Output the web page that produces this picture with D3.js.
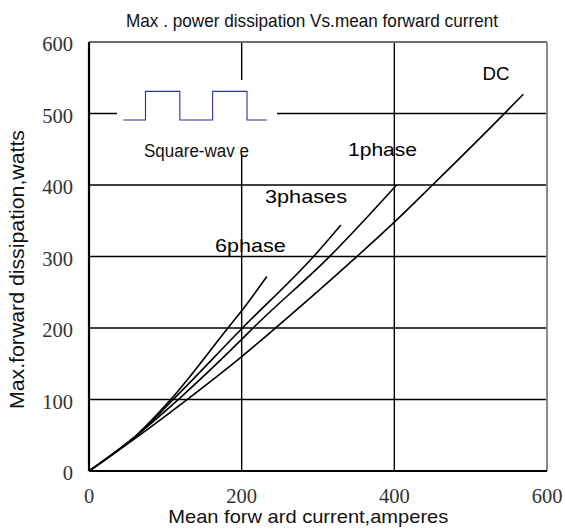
<!DOCTYPE html>
<html>
<head>
<meta charset="utf-8">
<script src="https://cdn.jsdelivr.net/npm/d3@7"></script>
<style>
  body { margin: 0; background: #fff; }
  svg { display: block; }
</style>
</head>
<body>
<div id="chart"></div>
<script>
// ------------------------------
// data
// ------------------------------
const xTicks = [0, 200, 400, 600];
const yTicks = [0, 100, 200, 300, 400, 500, 600];

const seriesNames = ['DC', '1phase', '3phases', '6phase'];

// mean forward current (A) / max power dissipation (W)
const dcCurrent = [0, 65, 125, 200, 240, 350, 400, 450, 547, 569];
const dcPower = [0, 49, 97, 160, 196, 299, 348, 400, 503, 527];

const phase1Current = [0, 65, 119, 200, 215, 318, 403];
const phase1Power = [0, 52, 102, 184, 200, 303, 400];

const phase3Current = [0, 65, 114, 201, 296, 330];
const phase3Power = [0, 52, 104, 200, 302, 344];

const phase6Current = [0, 62, 107, 182, 200, 233];
const phase6Power = [0, 50, 100, 200, 224, 272];

// square-wave inset glyph, in chart units
const waveX = [45, 74, 74, 119, 119, 162, 162, 207, 207, 233];
const waveY = [491, 491, 531, 531, 491, 491, 531, 531, 491, 491];

// ------------------------------
// layout
// ------------------------------
const W = 565, H = 530;
const margin = { top: 42, right: 18, bottom: 59, left: 89 };
const width = W - margin.left - margin.right;
const height = H - margin.top - margin.bottom;

const sansFont = 'Liberation Sans';
const serifFont = 'Liberation Serif';

const svgRoot = d3.select('#chart')
  .append('svg')
  .attr('width', W)
  .attr('height', H);

const svg = svgRoot.append('g')
  .attr('transform', `translate(${margin.left},${margin.top})`);

const x = d3.scaleLinear().domain([0, 600]).range([0, width]);
const y = d3.scaleLinear().domain([0, 600]).range([height, 0]);

// grid
svg.append('g')
  .selectAll('line')
  .data(yTicks.filter((d) => d > 0 && d < 600))
  .join('line')
  .attr('x1', 0).attr('x2', width)
  .attr('y1', (d) => y(d)).attr('y2', (d) => y(d))
  .attr('stroke', '#000')
  .attr('stroke-width', 1.4);

svg.append('g')
  .selectAll('line')
  .data(xTicks.filter((d) => d > 0 && d < 600))
  .join('line')
  .attr('y1', 0).attr('y2', height)
  .attr('x1', (d) => x(d)).attr('x2', (d) => x(d))
  .attr('stroke', '#000')
  .attr('stroke-width', 1.4);

// inset: white box knocks out the grid, then the wave
svg.append('rect')
  .attr('x', 28).attr('y', 38)
  .attr('width', 160).attr('height', 75)
  .attr('fill', '#fff');

svg.append('path')
  .datum(waveX.map((d, i) => [d, waveY[i]]))
  .attr('d', d3.line().x((d) => x(d[0])).y((d) => y(d[1])))
  .attr('fill', 'none')
  .attr('stroke', '#2e3192')
  .attr('stroke-width', 1.1);

svg.append('text')
  .attr('x', 55).attr('y', 115.3)
  .attr('textLength', 105)
  .attr('lengthAdjust', 'spacingAndGlyphs')
  .attr('font-family', sansFont)
  .attr('font-size', 18)
  .attr('fill', '#111')
  .text('Square-wav e');

// curves
const curves = [
  { name: seriesNames[0], xs: dcCurrent, ys: dcPower },
  { name: seriesNames[1], xs: phase1Current, ys: phase1Power },
  { name: seriesNames[2], xs: phase3Current, ys: phase3Power },
  { name: seriesNames[3], xs: phase6Current, ys: phase6Power },
];

const line = d3.line()
  .x((d) => x(d[0]))
  .y((d) => y(d[1]))
  .curve(d3.curveMonotoneX);

svg.append('g')
  .selectAll('path')
  .data(curves)
  .join('path')
  .attr('d', (c) => line(c.xs.map((v, i) => [v, c.ys[i]])))
  .attr('fill', 'none')
  .attr('stroke', '#000')
  .attr('stroke-width', 1.6);

// curve labels (pixel anchors inside the plot)
const labelPos = {
  DC: { cx: 407, by: 38, len: 27 },
  '1phase': { cx: 293.5, by: 113.7, len: 69 },
  '3phases': { cx: 217, by: 161, len: 82 },
  '6phase': { cx: 161.4, by: 209.7, len: 70.7 },
};

svg.append('g')
  .selectAll('text')
  .data(seriesNames)
  .join('text')
  .attr('x', (d) => labelPos[d].cx)
  .attr('y', (d) => labelPos[d].by)
  .attr('text-anchor', 'middle')
  .attr('textLength', (d) => labelPos[d].len)
  .attr('lengthAdjust', 'spacingAndGlyphs')
  .attr('font-family', sansFont)
  .attr('font-size', 19)
  .attr('fill', '#000')
  .text((d) => d);

// frame: dark left/bottom, grey top/right
svg.append('line')
  .attr('x1', 0).attr('x2', width).attr('y1', 0).attr('y2', 0)
  .attr('stroke', '#6e6e6e').attr('stroke-width', 2);
svg.append('line')
  .attr('x1', width).attr('x2', width).attr('y1', 0).attr('y2', height)
  .attr('stroke', '#8a8a8a').attr('stroke-width', 2);
svg.append('line')
  .attr('x1', 0).attr('x2', width).attr('y1', height).attr('y2', height)
  .attr('stroke', '#000').attr('stroke-width', 2.2);
svg.append('line')
  .attr('x1', 0).attr('x2', 0).attr('y1', 0).attr('y2', height)
  .attr('stroke', '#000').attr('stroke-width', 2.2);

// tick labels (serif, no tick marks)
svg.append('g')
  .selectAll('text')
  .data(yTicks)
  .join('text')
  .attr('x', -16)
  .attr('y', (d) => y(d) + 9)
  .attr('text-anchor', 'end')
  .attr('font-family', serifFont)
  .attr('font-size', 20.5)
  .attr('fill', '#333')
  .text((d) => d);

svg.append('g')
  .selectAll('text')
  .data(xTicks)
  .join('text')
  .attr('x', (d) => x(d))
  .attr('y', height + 32.3)
  .attr('text-anchor', 'middle')
  .attr('font-family', serifFont)
  .attr('font-size', 20.5)
  .attr('fill', '#333')
  .text((d) => d);

// title and axis titles
svgRoot.append('text')
  .attr('x', 312).attr('y', 27.3)
  .attr('text-anchor', 'middle')
  .attr('textLength', 372)
  .attr('lengthAdjust', 'spacingAndGlyphs')
  .attr('font-family', sansFont)
  .attr('font-size', 19)
  .attr('fill', '#111')
  .text('Max . power dissipation Vs.mean forward current');

svgRoot.append('text')
  .attr('x', 308.3).attr('y', 523.3)
  .attr('text-anchor', 'middle')
  .attr('textLength', 280)
  .attr('lengthAdjust', 'spacingAndGlyphs')
  .attr('font-family', sansFont)
  .attr('font-size', 19)
  .attr('fill', '#111')
  .text('Mean  forw ard current,amperes');

svgRoot.append('text')
  .attr('transform', 'translate(24,269.5) rotate(-90)')
  .attr('text-anchor', 'middle')
  .attr('textLength', 279)
  .attr('lengthAdjust', 'spacingAndGlyphs')
  .attr('font-family', sansFont)
  .attr('font-size', 20)
  .attr('fill', '#111')
  .text('Max.forward dissipation,watts');
</script>
</body>
</html>
